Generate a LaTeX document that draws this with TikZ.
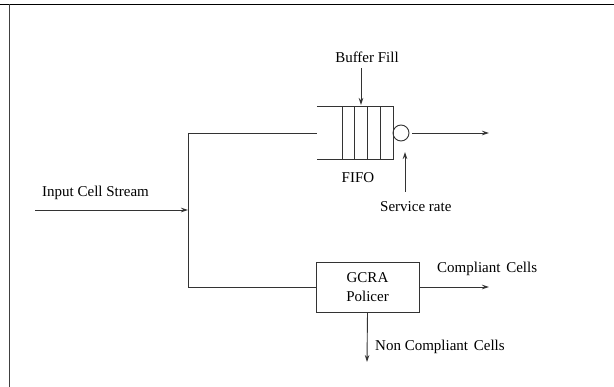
\documentclass[tikz,border=0pt]{standalone}
\usepackage{fontspec}
\setmainfont{Liberation Serif}
\usetikzlibrary{arrows.meta}
\begin{document}
\begin{tikzpicture}[x=1pt,y=-1pt,
  wire/.style={line width=0.9pt,draw=black!80},
  arr/.style={wire,-{Stealth[length=7pt,width=4.5pt]}},
  lbl/.style={font=\fontsize{15}{19}\selectfont,inner sep=0pt},
  pbox/.style={draw=black!80,line width=0.9pt,minimum width=103pt,minimum height=50pt,inner sep=0pt,align=center,font=\fontsize{15}{19}\selectfont}]
\useasboundingbox (0,0) rectangle (614,387);
% frame
\coordinate (ftl) at (9,4.5);
\coordinate (ftr) at (614,4.5);
\coordinate (fbl) at (9,387);
\coordinate (fl0) at (0,4.5);
\draw[line width=1pt] (fl0) -- (ftr);
\draw[line width=1pt,draw=black!75] (ftl) -- (fbl);
% input
\coordinate (in) at (35,210);
\coordinate (junc) at (188,210);
\coordinate (jtop) at (188,133);
\coordinate (jbot) at (188,287);
\node[lbl,anchor=west] (inlbl) at (42,193) {Input Cell Stream};
\draw[arr] (in) -- (junc);
\draw[wire] (jtop) -- (jbot);
% queue
\node[minimum width=76pt,minimum height=52pt,inner sep=0pt] (queue) at (355,133) {};
\draw[wire] (queue.north west) -- (queue.north east) -- (queue.south east) -- (queue.south west);
\foreach \xx in {342,354.5,367,380}{
  \draw[wire] (\xx,107) -- (\xx,159);
}
\draw[wire] (jtop) -- (queue.west);
\node[draw=black!80,line width=0.9pt,circle,minimum size=16pt,inner sep=0pt] (srv) at (401,133) {};
\coordinate (out) at (489,133);
\draw[arr] ([xshift=3pt]srv.east) -- (out);
\node[lbl] (buf) at (367,57) {Buffer Fill};
\coordinate (bufin) at (361,105);
\draw[arr] (361,68) -- (bufin);
\node[lbl] (fifo) at (358,178) {FIFO};
\node[lbl,anchor=west] (srate) at (380,207) {Service rate};
\coordinate (sr0) at (405,192);
\coordinate (sr1) at (405,152);
\draw[arr] (sr0) -- (sr1);
% policer
\node[pbox] (gcra) at (367.5,287) {GCRA\\Policer};
\draw[wire] (jbot) -- (gcra.west);
\coordinate (comp) at (489,287);
\draw[arr] (gcra.east) -- (comp);
\node[lbl,anchor=west] (complbl) at (437,269) {Compliant\hspace{2pt} Cells};
\coordinate (nc) at (367,362);
\draw[arr] (gcra.south) -- (nc);
\node[lbl,anchor=west] (nclbl) at (375,347) {Non Compliant\hspace{2pt} Cells};
\end{tikzpicture}
\end{document}
